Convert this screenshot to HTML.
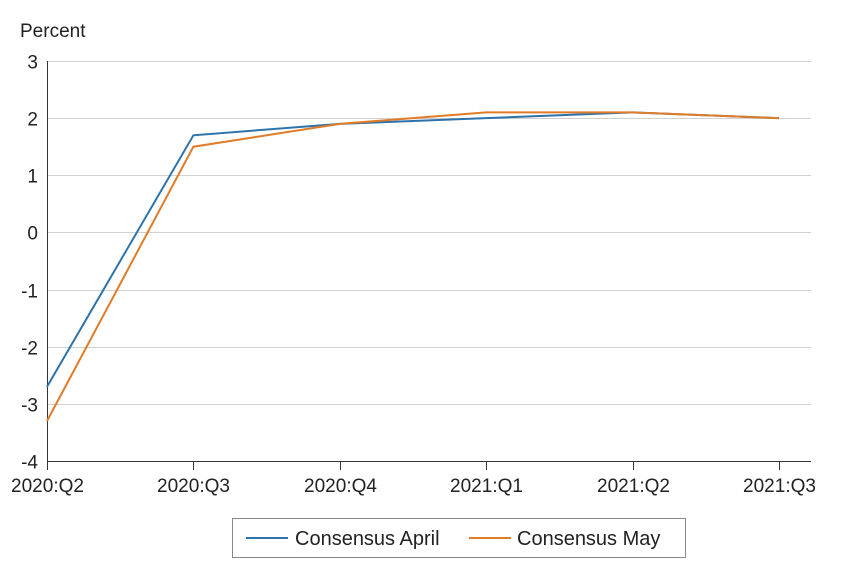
<!DOCTYPE html>
<html><head><meta charset="utf-8"><style>
body{margin:0;background:#fff;font-family:"Liberation Sans",Arial,sans-serif;}
svg text{font-family:"Liberation Sans",Arial,sans-serif;fill:#222;}
</style></head><body>
<svg id="chart" width="850" height="569" viewBox="0 0 850 569" xmlns="http://www.w3.org/2000/svg">
<text x="20" y="37" font-size="19">Percent</text>
<g id="grid"></g>
<g id="yticks"></g>
<g id="xticks"></g>
<g id="series"></g>
<g>
<rect x="232.5" y="518.5" width="453" height="39" fill="#fff" stroke="#888"/>
<g>
<line x1="246" y1="538" x2="288" y2="538" stroke="#2c73ab" stroke-width="2"/>
<text x="295" y="545" font-size="20">Consensus April</text></g>
<g>
<line x1="469" y1="538" x2="511" y2="538" stroke="#e07b28" stroke-width="2"/>
<text x="517" y="545" font-size="20">Consensus May</text></g>
</g>
</svg>
<script>
const categories=["2020:Q2","2020:Q3","2020:Q4","2021:Q1","2021:Q2","2021:Q3"];
const aprilValues=[-2.7,1.7,1.9,2.0,2.1,2.0];
const mayValues=[-3.3,1.5,1.9,2.1,2.1,2.0];
const yTicks=[3,2,1,0,-1,-2,-3,-4];
const NS="http://www.w3.org/2000/svg";
const x0=47,x1=779,yTop=61,yBot=461,yMax=3,yMin=-4,gridRight=811;
function xScale(i){return x0+(x1-x0)*i/(categories.length-1);}
function yScale(v){return yTop+(yMax-v)/(yMax-yMin)*(yBot-yTop);}
function mk(tag,attrs,parent){const e=document.createElementNS(NS,tag);for(const k in attrs)e.setAttribute(k,attrs[k]);parent.appendChild(e);return e;}
const grid=document.getElementById('grid'),yt=document.getElementById('yticks'),xt=document.getElementById('xticks'),ser=document.getElementById('series');
yTicks.forEach(v=>{
 const y=Math.round(yScale(v))+0.5;
 if(v!==yMin){const l=mk('line',{x1:x0,x2:gridRight,y1:y,y2:y,stroke:'#d0d0d0','stroke-width':1},grid);
 
 }
 const t=mk('text',{x:38,y:y+7,'font-size':19,'text-anchor':'end'},yt);t.textContent=v;
 
 
});
mk('line',{x1:x0+0.5,x2:x0+0.5,y1:yTop,y2:yBot,stroke:'#333','stroke-width':1},yt);
mk('line',{x1:x0,x2:gridRight,y1:yBot+0.5,y2:yBot+0.5,stroke:'#333','stroke-width':1},xt);
categories.forEach((c,i)=>{
 const x=Math.round(xScale(i))+0.5;
 mk('line',{x1:x,x2:x,y1:yBot,y2:yBot+9,stroke:'#333','stroke-width':1},xt);
 const t=mk('text',{x:x,y:492,'font-size':19,'text-anchor':'middle'},xt);t.textContent=c;
 
 
});
function line(vals,color,name){
 const p=mk('polyline',{points:vals.map((v,i)=>xScale(i)+','+yScale(v)).join(' '),fill:'none',stroke:color,'stroke-width':2},ser);
 
 
}
line(aprilValues,'#2c73ab','consensus-april-line');
line(mayValues,'#e07b28','consensus-may-line');
</script>
</body></html>
